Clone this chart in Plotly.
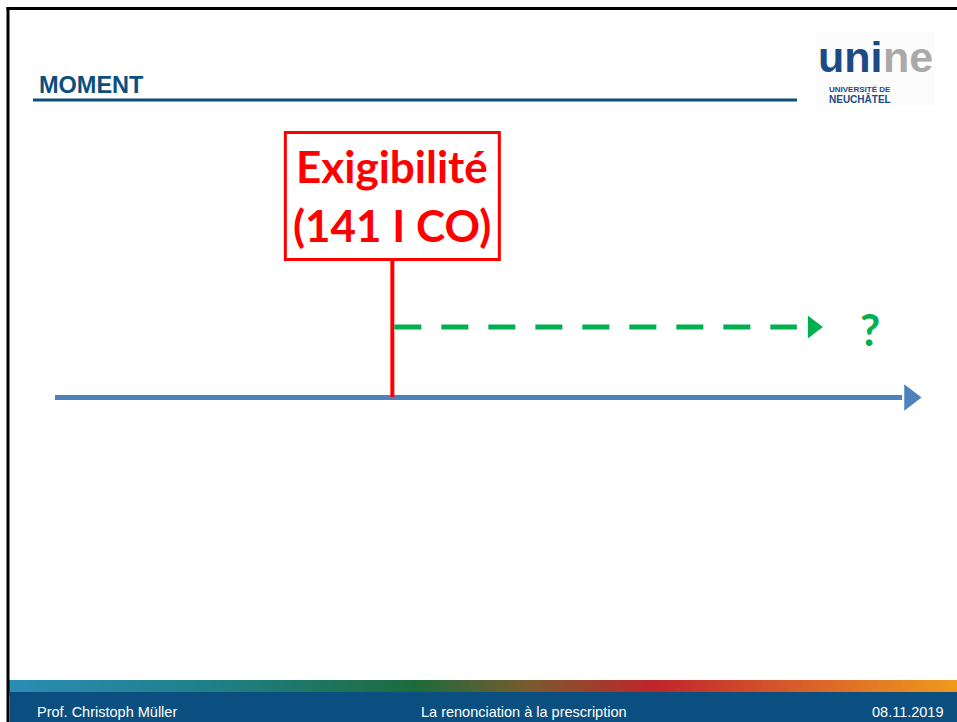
import numpy as np
import plotly.graph_objects as go

# ---- content / data ----
title_text = "MOMENT"
timeline_t = [0.0, 10.0]          # time axis start / end (arbitrary units)
exigibility_t = 3.9               # moment of exigibility (141 I CO)
limitation_end_t = 8.9            # unknown end of the limitation period
question_t = 9.42
box_lines = ["Exigibilité", "(141 I CO)"]
question_text = "?"
footer_left = "Prof. Christoph Müller"
footer_center = "La renonciation à la prescription"
footer_right = "08.11.2019"
logo_main = ["uni", "ne"]
logo_sub = ["UNIVERSITÉ DE", "NEUCHÂTEL"]

W, H = 957, 722
SCALE = 86.5      # px per time unit
X0PX = 55         # pixel of t = 0

BLUE = "#4f81bd"
RED = "#ff0000"
GREEN = "#00b050"
NAVY = "#0b4f80"


def px(x):
    return x / W


def py(y):
    return 1 - y / H


def dt(pixels):
    return pixels / SCALE


fig = go.Figure()

# main time axis (blue arrow)
fig.add_trace(go.Scatter(
    x=[timeline_t[0], timeline_t[1] - dt(18)], y=[397.5, 397.5], mode="lines",
    line=dict(color=BLUE, width=5), hoverinfo="skip", showlegend=False))
fig.add_trace(go.Scatter(
    x=[timeline_t[1] - dt(10)], y=[397.5], mode="markers",
    marker=dict(symbol="triangle-right", size=23, color=BLUE, line=dict(width=0)),
    hoverinfo="skip", showlegend=False))

# exigibility marker (red vertical)
fig.add_trace(go.Scatter(
    x=[exigibility_t, exigibility_t], y=[259, 397], mode="lines",
    line=dict(color=RED, width=4), hoverinfo="skip", showlegend=False))

# limitation period (green dashed arrow)
fig.add_trace(go.Scatter(
    x=[exigibility_t + dt(2), limitation_end_t - dt(28)], y=[327, 327], mode="lines",
    line=dict(color=GREEN, width=5, dash="27px,20px"), hoverinfo="skip", showlegend=False))
fig.add_trace(go.Scatter(
    x=[limitation_end_t - dt(12)], y=[327], mode="markers",
    marker=dict(symbol="triangle-right", size=20, color=GREEN, line=dict(width=0)),
    hoverinfo="skip", showlegend=False))

# footer gradient strip (on pixel axes)
grad_x = np.linspace(9, W, 400)
fig.add_trace(go.Heatmap(
    x=grad_x, y=[684, 692], z=[np.linspace(0, 1, 400), np.linspace(0, 1, 400)],
    xaxis="x2", yaxis="y2", showscale=False, hoverinfo="skip",
    colorscale=[[0.0, "#2c8cb4"], [0.22, "#1f7f86"], [0.43, "#1d6b3c"],
                [0.55, "#7a5a2e"], [0.68, "#c0242b"], [0.84, "#d8602a"],
                [1.0, "#f09a1c"]]))

shapes = []
# slide border
shapes.append(dict(type="line", xref="paper", yref="paper", x0=px(8), x1=px(8),
                   y0=py(7), y1=py(H), line=dict(color="black", width=3)))
shapes.append(dict(type="line", xref="paper", yref="paper", x0=px(6.5), x1=px(W),
                   y0=py(8.5), y1=py(8.5), line=dict(color="black", width=3)))
# title underline
shapes.append(dict(type="line", xref="paper", yref="paper", x0=px(33), x1=px(797),
                   y0=py(100), y1=py(100), line=dict(color=NAVY, width=3)))
# logo background
shapes.append(dict(type="rect", xref="paper", yref="paper", x0=px(816), x1=px(935),
                   y0=py(32), y1=py(106), fillcolor="#fcfcfc", line=dict(width=0),
                   layer="below"))
# footer band
shapes.append(dict(type="rect", xref="paper", yref="paper", x0=px(9.5), x1=px(W),
                   y0=py(692), y1=py(H), fillcolor=NAVY, line=dict(width=0)))
# red label box
shapes.append(dict(type="rect", xref="x", yref="y",
                   x0=exigibility_t - dt(107), x1=exigibility_t + dt(107),
                   y0=132.5, y1=259.5, line=dict(color=RED, width=3),
                   fillcolor="rgba(0,0,0,0)"))

ann = []
ann.append(dict(text="<b>" + title_text + "</b>", xref="paper", yref="paper",
                x=px(37), y=py(85), xanchor="left", yanchor="middle", showarrow=False,
                font=dict(family="Liberation Sans, Arial", size=23.5, color=NAVY)))
LABEL_FONT = "Lato, Open Sans, sans-serif"
ann.append(dict(text="<b>" + box_lines[0] + "</b>", xref="x", yref="y",
                x=exigibility_t, y=166, xanchor="center", yanchor="middle", showarrow=False,
                font=dict(family=LABEL_FONT, size=44, color=RED)))
ann.append(dict(text="<b>" + box_lines[1] + "</b>", xref="x", yref="y",
                x=exigibility_t, y=225, xanchor="center", yanchor="middle", showarrow=False,
                font=dict(family=LABEL_FONT, size=44, color=RED)))
ann.append(dict(text="<b>" + question_text + "</b>", xref="x", yref="y",
                x=question_t, y=329, xanchor="center", yanchor="middle", showarrow=False,
                font=dict(family=LABEL_FONT, size=44, color=GREEN)))

FOOT_FONT = dict(family="Liberation Sans, Arial", size=14.5, color="white")
ann.append(dict(text=footer_left, xref="paper", yref="paper", x=px(35), y=py(712),
                xanchor="left", yanchor="middle", showarrow=False, font=FOOT_FONT))
ann.append(dict(text=footer_center, xref="paper", yref="paper", x=px(524), y=py(712),
                xanchor="center", yanchor="middle", showarrow=False, font=FOOT_FONT))
ann.append(dict(text=footer_right, xref="paper", yref="paper", x=px(946), y=py(712),
                xanchor="right", yanchor="middle", showarrow=False, font=FOOT_FONT))

LOGO_FONT = "Liberation Sans, Arial"
ann.append(dict(text="<b>" + logo_main[0] + "</b>", xref="paper", yref="paper",
                x=px(884), y=py(57), xanchor="right", yanchor="middle", showarrow=False,
                font=dict(family=LOGO_FONT, size=43, color="#1c4a84")))
ann.append(dict(text="<b>" + logo_main[1] + "</b>", xref="paper", yref="paper",
                x=px(881), y=py(57), xanchor="left", yanchor="middle", showarrow=False,
                font=dict(family=LOGO_FONT, size=43, color="#a9a9a9")))
ann.append(dict(text="<b>" + logo_sub[0] + "</b>", xref="paper", yref="paper",
                x=px(827), y=py(89), xanchor="left", yanchor="middle", showarrow=False,
                font=dict(family="Liberation Sans", size=8, color="#1c4a84")))
ann.append(dict(text="<b>" + logo_sub[1] + "</b>", xref="paper", yref="paper",
                x=px(827), y=py(99), xanchor="left", yanchor="middle", showarrow=False,
                font=dict(family="Liberation Sans", size=10, color="#1c4a84")))

fig.update_layout(
    width=W, height=H, margin=dict(l=0, r=0, t=0, b=0),
    paper_bgcolor="white", plot_bgcolor="white",
    xaxis=dict(range=[-X0PX / SCALE, (W - X0PX) / SCALE], visible=False, fixedrange=True),
    yaxis=dict(range=[H, 0], visible=False, fixedrange=True),
    xaxis2=dict(range=[0, W], visible=False, overlaying="x", fixedrange=True),
    yaxis2=dict(range=[H, 0], visible=False, overlaying="y", fixedrange=True),
    shapes=shapes, annotations=ann, showlegend=False,
)

fig.write_html(
    "out.html",
    config={"displayModeBar": False},
    post_script="document.body.style.margin='0px';document.body.style.overflow='hidden';",
)
